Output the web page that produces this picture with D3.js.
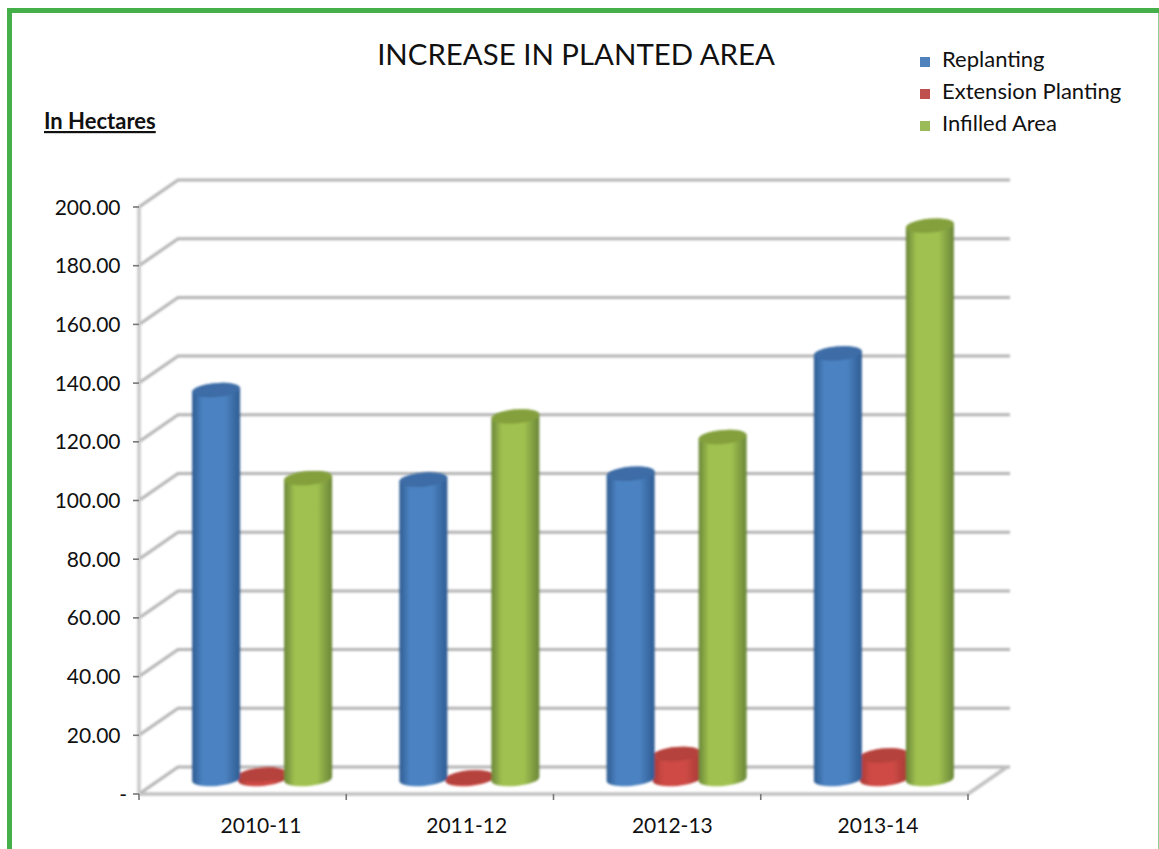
<!DOCTYPE html>
<html><head><meta charset="utf-8">
<script src="https://cdn.jsdelivr.net/npm/d3@7"></script>
<style>html,body{margin:0;padding:0;background:#fff;overflow:hidden}svg{display:block}text{font-family:Lato,"Open Sans",sans-serif;fill:#111}</style>
</head><body><svg id="c" width="1159" height="849"></svg>
<script>
const categories = ["2010-11","2011-12","2012-13","2013-14"];
const seriesNames = ["Replanting","Extension Planting","Infilled Area"];
const replanting = [133,102.5,104.5,145.5];
const extension = [2,1,9,8.5];
const infilled = [103,124,117,189];
const yTicks = [0,20,40,60,80,100,120,140,160,180,200];
const palette = {
  "Replanting":{edge:"#2f5c92",mid:"#4b83c2",top:"#3c6ca6",key:"#4f81bd"},
  "Extension Planting":{edge:"#a63a36",mid:"#cf4a45",top:"#b5423e",key:"#c0504d"},
  "Infilled Area":{edge:"#6a8638",mid:"#a0c150",top:"#84a03e",key:"#9bbb59"}
};
const seriesValues = [replanting,extension,infilled];

const svg = d3.select("#c");
const defs = svg.append("defs");
defs.append("filter").attr("id","soft").append("feGaussianBlur").attr("stdDeviation",1);
seriesNames.forEach((n,i)=>{
  const g = defs.append("linearGradient").attr("id","g"+i);
  [[0,palette[n].edge],[.22,palette[n].mid],[.68,palette[n].mid],[1,palette[n].edge]].forEach(s=>
    g.append("stop").attr("offset",s[0]).attr("stop-color",s[1]));
});

// frame
const G="#45b04a";
svg.append("rect").attr("x",7).attr("y",8).attr("width",1152).attr("height",5).attr("fill",G);
svg.append("rect").attr("x",7).attr("y",8).attr("width",5).attr("height",841).attr("fill",G);
svg.append("rect").attr("x",1158).attr("y",13).attr("width",1).attr("height",836).attr("fill","#8fd092");

// scales
const y = d3.scaleLinear().domain([0,200]).range([794,207]);
const x = d3.scaleBand().domain(categories).range([139,968]);
const depthX = 39, depthY = -27;
const series = d3.scaleBand().domain(seriesNames).range([0,x.bandwidth()]).paddingInner(-0.04).paddingOuter(0.733);
const labelX = d3.scalePoint().domain(categories).range([261,878]);

// grid and walls
const grid = svg.append("g").attr("filter","url(#soft)").attr("fill","none").attr("stroke","#b4b4b4").attr("stroke-width",3);
yTicks.forEach(t=>{
  grid.append("path").attr("d",`M139,${y(t)}L${139+depthX},${y(t)+depthY}H1010`);
});
grid.append("path").attr("d",`M139,${y(200)}V${y(0)}`).attr("stroke","#c8c8c8").attr("stroke-width",3.5);
grid.append("path").attr("d",`M139,${y(0)}H968L1007,${y(0)+depthY}`).attr("stroke","#c0c0c0").attr("stroke-width",3.5);

// ticks
const tk = svg.append("g").attr("stroke","#777").attr("stroke-width",1.6);
yTicks.forEach(t=>tk.append("line").attr("x1",133).attr("x2",139).attr("y1",y(t)).attr("y2",y(t)));
[...categories.map(c=>x(c)),968].forEach(v=>tk.append("line").attr("x1",v).attr("x2",v).attr("y1",794).attr("y2",800));

// y labels
svg.append("g").selectAll("text").data(yTicks).join("text")
  .attr("x",d=>d===0?127:120.5).attr("y",d=>y(d)+7.5).attr("text-anchor","end")
  .attr("font-size",21).text(d=>d===0?"-":d3.format(".2f")(d));
// x labels
svg.append("g").selectAll("text").data(categories).join("text")
  .attr("x",d=>labelX(d)).attr("y",833).attr("text-anchor","middle").attr("font-size",21).text(d=>d);

// cylinders
const rx = 24, ry = 7, tilt = 2.2;
const bars = svg.append("g").attr("filter","url(#soft)");
const baseY = y(0)+depthY/2-1.5, shiftX = depthX/2;
const slope = v => y(0)-y(v)-1.5;
[1,0,2].forEach(si=>{
  const name = seriesNames[si];
  categories.forEach((c,ci)=>{
    const cx = x(c)+series(name)+series.bandwidth()/2+shiftX;
    const top = baseY-slope(seriesValues[si][ci]);
    const L=cx-rx,R=cx+rx;
    bars.append("path").attr("fill",`url(#g${si})`)
      .attr("d",`M${L},${top+tilt}L${L},${baseY+tilt}A${rx},${ry} -5 0 0 ${R},${baseY-tilt}L${R},${top-tilt}A${rx},${ry} -5 0 0 ${L},${top+tilt}Z`);
    bars.append("path").attr("fill",palette[name].top)
      .attr("d",`M${L},${top+tilt}A${rx},${ry} -5 0 1 ${R},${top-tilt}A${rx},${ry} -5 0 1 ${L},${top+tilt}Z`);
  });
});

// titles
svg.append("text").attr("x",576).attr("y",65).attr("text-anchor","middle").attr("font-size",29.4).text("INCREASE IN PLANTED AREA");
svg.append("text").attr("x",44).attr("y",129).attr("font-size",22).attr("font-weight",700)
  .attr("text-decoration","underline").text("In Hectares");

// legend
const legendY = d3.scalePoint().domain(seriesNames).range([62,126]);
const lg = svg.append("g").selectAll("g").data(seriesNames).join("g");
lg.append("rect").attr("x",920).attr("y",d=>legendY(d)-5).attr("width",10).attr("height",10).attr("fill",d=>palette[d].key);
lg.append("text").attr("x",942).attr("y",d=>legendY(d)+5).attr("font-size",22).text(d=>d);
</script></body></html>
